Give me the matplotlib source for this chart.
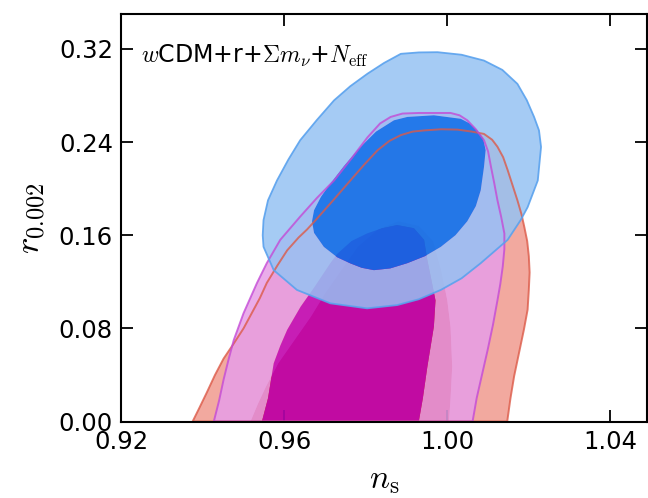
import numpy as np
import matplotlib
matplotlib.use("Agg")
import matplotlib.pyplot as plt
from matplotlib.path import Path
from matplotlib.patches import PathPatch

plt.rcParams['mathtext.fontset'] = 'cm'
plt.rcParams['font.family'] = ['DejaVu Sans']

# ---------------- data (contour boundaries) ----------------
# red: 95% and 68% regions
red95_ns = [0.9375, 0.9392, 0.9410, 0.9430, 0.9451, 0.9476, 0.9500, 0.9520, 0.9540,
            0.9557, 0.9583, 0.9607, 0.9635, 0.9656, 0.9677, 0.9720, 0.9762, 0.9797,
            0.9829, 0.9858, 0.9886, 0.9915, 0.9943, 0.9985, 1.0025, 1.0060, 1.0090,
            1.0110, 1.0123, 1.0137, 1.0148, 1.0160, 1.0172, 1.0182, 1.0189, 1.0196,
            1.0200, 1.0202, 1.0200, 1.0197, 1.0188, 1.0176, 1.0164, 1.0155, 1.0147]
red95_r = [0.000, 0.012, 0.025, 0.040, 0.054, 0.067, 0.080, 0.093, 0.106,
           0.119, 0.134, 0.147, 0.158, 0.165, 0.173, 0.190, 0.207, 0.221,
           0.233, 0.241, 0.246, 0.249, 0.250, 0.251, 0.2507, 0.249, 0.247,
           0.242, 0.236, 0.227, 0.216, 0.203, 0.190, 0.178, 0.167, 0.155,
           0.142, 0.128, 0.113, 0.096, 0.079, 0.059, 0.039, 0.020, 0.000]

red68_ns = [0.9517, 0.9535, 0.9555, 0.9585, 0.9625, 0.9665, 0.9700, 0.9740, 0.9780,
            0.9830, 0.9880, 0.9930, 0.9965, 0.9985, 1.0000, 1.0008, 1.0012, 1.0008, 1.0004]
red68_r = [0.000, 0.015, 0.030, 0.050, 0.070, 0.090, 0.110, 0.130, 0.150,
           0.165, 0.172, 0.168, 0.155, 0.130, 0.104, 0.081, 0.047, 0.020, 0.000]

# magenta: 95% and 68% regions
mag95_ns = [0.9427, 0.9440, 0.9451, 0.9463, 0.9476, 0.9500, 0.9533, 0.9557, 0.9590,
            0.9639, 0.9680, 0.9722, 0.9765, 0.9804, 0.9835, 0.9861, 0.9890, 0.9930,
            0.9970, 1.0008, 1.0030, 1.0049, 1.0070, 1.0090, 1.0100, 1.0107, 1.0115,
            1.0123, 1.0132, 1.0140, 1.0140, 1.0136, 1.0130, 1.0123, 1.0112, 1.0099,
            1.0085, 1.0072, 1.0062]
mag95_r = [0.000, 0.018, 0.036, 0.053, 0.070, 0.093, 0.119, 0.136, 0.156,
           0.176, 0.192, 0.207, 0.226, 0.244, 0.256, 0.2616, 0.2645, 0.265,
           0.265, 0.265, 0.263, 0.2587, 0.251, 0.2416, 0.232, 0.219, 0.205,
           0.190, 0.176, 0.1615, 0.148, 0.133, 0.118, 0.104, 0.083, 0.0615,
           0.040, 0.020, 0.000]

mag68_ns = [0.9545, 0.9560, 0.9574, 0.9590, 0.9607, 0.9640, 0.9673, 0.9713, 0.9730,
            0.9765, 0.9803, 0.9840, 0.9877, 0.9918, 0.9943, 0.9951, 0.9959, 0.9971,
            0.9967, 0.9951, 0.9940, 0.9930]
mag68_r = [0.000, 0.020, 0.050, 0.065, 0.0787, 0.0986, 0.115, 0.136, 0.144,
           0.155, 0.1615, 0.166, 0.1687, 0.166, 0.156, 0.1387, 0.125, 0.104,
           0.0815, 0.047, 0.020, 0.000]

# blue: 95% and 68% regions
blue95_ns = [0.9803, 0.9877, 0.9930, 0.9984, 1.0035, 1.0082, 1.0148, 1.0180, 1.0197,
             1.0222, 1.0230, 1.0225, 1.0213, 1.0195, 1.0172, 1.0135, 1.0090, 1.0035,
             0.9976, 0.9930, 0.9886, 0.9845, 0.9804, 0.9762, 0.9722, 0.9680, 0.9639,
             0.9610, 0.9582, 0.9560, 0.9549, 0.9547, 0.9549, 0.9574, 0.9631, 0.9713]
blue95_r = [0.0972, 0.100, 0.105, 0.113, 0.123, 0.136, 0.156, 0.173, 0.184,
            0.207, 0.2358, 0.250, 0.2615, 0.276, 0.290, 0.302, 0.310, 0.315,
            0.3172, 0.317, 0.3158, 0.308, 0.2987, 0.288, 0.2758, 0.259, 0.2416,
            0.225, 0.207, 0.190, 0.173, 0.160, 0.150, 0.130, 0.113, 0.1015]

blue68_ns = [0.9820, 0.9860, 0.9902, 0.9945, 0.9984, 1.0020, 1.0049, 1.0070, 1.0082,
             1.0090, 1.0094, 1.0088, 1.0074, 1.0055, 1.0033, 0.9967, 0.9902, 0.9869,
             0.9825, 0.9779, 0.9745, 0.9713, 0.9690, 0.9673, 0.9668, 0.9673, 0.9697,
             0.9730, 0.9762, 0.9790]
blue68_r = [0.130, 0.1315, 0.136, 0.142, 0.150, 0.160, 0.172, 0.185, 0.1986,
            0.2187, 0.233, 0.243, 0.250, 0.256, 0.260, 0.263, 0.2616, 0.2587,
            0.249, 0.233, 0.219, 0.2044, 0.193, 0.1815, 0.172, 0.162, 0.150,
            0.141, 0.1358, 0.132]

x_ticks = [0.92, 0.96, 1.00, 1.04]
y_ticks = [0.00, 0.08, 0.16, 0.24, 0.32]
label_text = r'$w$CDM+r+$\Sigma m_\nu$+$N_{\rm eff}$'

# ---------------- helpers ----------------
def _area(a):
    x, y = a[:, 0], a[:, 1]
    return 0.5 * np.sum(x * np.roll(y, -1) - np.roll(x, -1) * y)

def _ring(xs, ys, ccw=True):
    a = np.column_stack([xs, ys]).astype(float)
    if (_area(a) > 0) != ccw:
        a = a[::-1]
    v = np.vstack([a, a[:1]])
    c = [Path.MOVETO] + [Path.LINETO] * (len(a) - 1) + [Path.CLOSEPOLY]
    return Path(v, c)

def band(ax, ox, oy, ix, iy, color, alpha, z):
    p = Path.make_compound_path(_ring(ox, oy, True), _ring(ix, iy, False))
    ax.add_patch(PathPatch(p, facecolor=color, edgecolor='none', alpha=alpha, zorder=z))

def region(ax, xs, ys, color, alpha, z):
    ax.add_patch(PathPatch(_ring(xs, ys), facecolor=color, edgecolor='none', alpha=alpha, zorder=z))

def outline(ax, xs, ys, color, lw, alpha, z):
    ax.add_patch(PathPatch(_ring(xs, ys), facecolor='none', edgecolor=color, lw=lw,
                           alpha=alpha, zorder=z, joinstyle='round'))

# ---------------- figure ----------------
fig = plt.figure(figsize=(6.48, 4.98), dpi=100)
ax = fig.add_axes([121.3 / 648, 76.5 / 498, (647.0 - 121.3) / 648, (421.5 - 14.0) / 498])

# red (first, opaque)
band(ax, red95_ns, red95_r, red68_ns, red68_r, '#F2A99F', 1.0, 1)
region(ax, red68_ns, red68_r, '#CD2A22', 1.0, 1)
# magenta
band(ax, mag95_ns, mag95_r, mag68_ns, mag68_r, '#E79EE7', 0.85, 2)
region(ax, mag68_ns, mag68_r, '#C006BA', 0.85, 2)
# blue
band(ax, blue95_ns, blue95_r, blue68_ns, blue68_r, '#96C2F3', 0.85, 3)
region(ax, blue68_ns, blue68_r, '#0170EA', 0.85, 3)

# outlines
outline(ax, red95_ns, red95_r, '#DC5A48', 1.4, 0.8, 4)
outline(ax, mag95_ns, mag95_r, '#C44AD6', 1.4, 0.8, 4)
outline(ax, blue95_ns, blue95_r, '#5AA2EE', 1.3, 0.9, 4)

ax.set_xlim(0.92, 1.049)
ax.set_ylim(0.0, 0.35)
ax.set_xticks(x_ticks)
ax.set_yticks(y_ticks)
ax.set_xticklabels([f'{v:.2f}' for v in x_ticks])
ax.set_yticklabels([f'{v:.2f}' for v in y_ticks])
ax.tick_params(direction='in', top=True, right=True, length=8.5, width=1.3,
               labelsize=17.5, pad=6)
for s in ax.spines.values():
    s.set_linewidth(1.5)
    s.set_zorder(10)

ax.set_xlabel(r'$n_{\rm s}$', fontsize=24)
ax.set_ylabel(r'$r_{0.002}$', fontsize=25)
ax.xaxis.set_label_coords(0.5, -0.102)
ax.yaxis.set_label_coords(-0.14, 0.5)

ax.text(0.037, 0.88, label_text, fontsize=17, transform=ax.transAxes, zorder=11)

fig.savefig('out.png', dpi=100)
